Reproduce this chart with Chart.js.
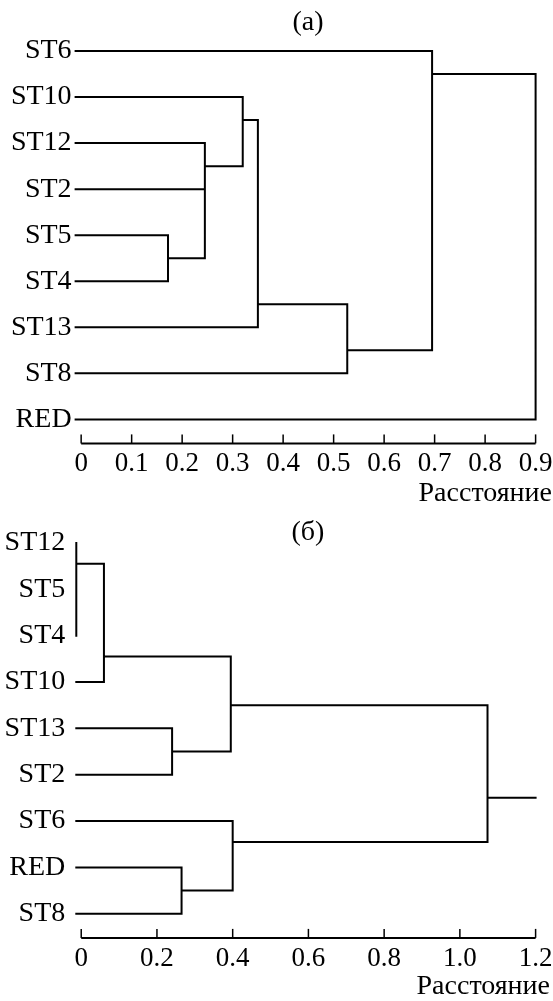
<!DOCTYPE html>
<html>
<head>
<meta charset="utf-8">
<script src="https://cdn.jsdelivr.net/npm/chart.js@4.4.1/dist/chart.umd.min.js"></script>
<style>
  body { margin: 0; background: #fff; }
  #page { position: relative; width: 553px; height: 1001px; font-family: "Liberation Serif", "DejaVu Serif", serif; color: #000; }
  canvas { position: absolute; left: 0; }
  .lbl { position: absolute; font-size: 28px; line-height: 28px; white-space: nowrap; }
</style>
</head>
<body>
<div id="page">
  <canvas id="chartA" width="553" height="480" style="top:0"></canvas>
  <canvas id="chartB" width="553" height="501" style="top:500px"></canvas>
  <div class="lbl" style="left:308px; top:7px; transform:translateX(-50%)">(а)</div>
  <div class="lbl" style="right:1px; top:478px">Расстояние</div>
  <div class="lbl" style="left:308px; top:517px; transform:translateX(-50%)">(б)</div>
  <div class="lbl" style="right:3px; top:971px">Расстояние</div>
</div>
<script>
// (а) leaves top to bottom, and the merge each leaf joins
const leavesA = ['ST6', 'ST10', 'ST12', 'ST2', 'ST5', 'ST4', 'ST13', 'ST8', 'RED'];
const leafParentA = [5, 2, 1, 1, 0, 0, 3, 4, 6];
// merges: distance, parent merge, row where the joined branch leaves
const mergeHeightA = [0.172, 0.245, 0.32, 0.35, 0.527, 0.695, 0.9];
const mergeParentA = [1, 2, 3, 4, 5, 6, -1];
const mergeRowA = [4.5, 2.5, 1.5, 5.5, 6.5, 0.5, 0.5];
const ticksA = [0, 0.1, 0.2, 0.3, 0.4, 0.5, 0.6, 0.7, 0.8, 0.9];
const tickLabelsA = ['0', '0.1', '0.2', '0.3', '0.4', '0.5', '0.6', '0.7', '0.8', '0.9'];

// (б)
const leavesB = ['ST12', 'ST5', 'ST4', 'ST10', 'ST13', 'ST2', 'ST6', 'RED', 'ST8'];
const leafParentB = [0, 0, 0, 1, 2, 2, 5, 4, 4];
const mergeHeightB = [0, 0.06, 0.24, 0.395, 0.265, 0.4, 1.073];
const mergeParentB = [1, 3, 3, 6, 5, 6, -1];
const mergeRowB = [0.45, 2.45, 4.5, 3.5, 7.5, 6.45, 5.5];
const ticksB = [0, 0.2, 0.4, 0.6, 0.8, 1.0, 1.2];
const tickLabelsB = ['0', '0.2', '0.4', '0.6', '0.8', '1.0', '1.2'];

const SERIF = '"Liberation Serif", "DejaVu Serif", serif';


function buildSegments(leaves, leafParent, heights, parents, rows, leafStart, rootEnd) {
    const xOf = h => (h > 0 ? h : leafStart);
    const kids = heights.map(() => []);
    leaves.forEach((name, i) => kids[leafParent[i]].push({ row: i, x: leafStart }));
    heights.forEach((h, m) => {
        if (parents[m] >= 0) kids[parents[m]].push({ row: rows[m], x: xOf(h) });
    });

    const pts = [];
    heights.forEach((h, m) => {
        const x = xOf(h);
        const r = kids[m].map(k => k.row);
        pts.push({ x: x, y: Math.min(...r) }, { x: x, y: Math.max(...r) }, { x: null, y: null });
        kids[m].forEach(k => {
            if (k.x < x) pts.push({ x: k.x, y: k.row }, { x: x, y: k.row }, { x: null, y: null });
        });
    });

    if (rootEnd !== null) {
        const root = parents.indexOf(-1);
        pts.push({ x: xOf(heights[root]), y: rows[root] }, { x: rootEnd, y: rows[root] });
    }
    return pts;
}


const axisLine = {   // baseline with ticks pointing up, from first to last tick
    id: 'axisLine',
    afterDraw(chart) {
        const xs = chart.scales.x;
        const ctx = chart.ctx;
        const y = chart.chartArea.bottom + 1;
        const vals = xs.ticks.map(t => t.value);
        ctx.save();
        ctx.strokeStyle = '#000';
        ctx.lineWidth = 2;
        ctx.beginPath();
        ctx.moveTo(xs.getPixelForValue(vals[0]), y);
        ctx.lineTo(xs.getPixelForValue(vals[vals.length - 1]), y);
        ctx.stroke();
        ctx.lineWidth = 1.5;
        vals.forEach(v => {
            const px = xs.getPixelForValue(v);
            ctx.beginPath();
            ctx.moveTo(px, y);
            ctx.lineTo(px, y - 9);
            ctx.stroke();
        });
        ctx.restore();
    }
};


function drawDendrogram(id, leaves, points, ticks, tickLabels, leafStart, box) {
    const ctx = document.getElementById(id).getContext('2d');
    return new Chart(ctx, {
        type: 'scatter',
        data: {
            datasets: [{
                data: points,
                showLine: true,
                spanGaps: false,
                borderColor: '#000',
                borderWidth: 2,
                borderCapStyle: 'square',
                pointRadius: 0,
                clip: false
            }]
        },
        options: {
            responsive: false,
            animation: false,
            events: [],
            layout: { padding: { top: box.top, right: box.right, bottom: 0, left: 0 } },
            plugins: { legend: { display: false }, tooltip: { enabled: false } },
            scales: {
                x: {
                    type: 'linear',
                    min: leafStart,
                    max: ticks[ticks.length - 1],
                    afterBuildTicks: s => { s.ticks = ticks.map(v => ({ value: v })); },
                    afterFit: s => {
                        s.height = box.xHeight;
                        s.paddingLeft = 0;
                        s.paddingRight = 0;
                    },
                    grid: { display: false, drawTicks: false },
                    border: { display: false },
                    ticks: {
                        autoSkip: false,
                        maxRotation: 0,
                        padding: box.xPad,
                        color: '#000',
                        font: { family: SERIF, size: 27 },
                        callback: (v, i) => tickLabels[i]
                    }
                },
                y: {
                    type: 'linear',
                    reverse: true,
                    min: -0.5,
                    max: leaves.length - 0.5,
                    afterBuildTicks: s => { s.ticks = leaves.map((n, i) => ({ value: i })); },
                    afterFit: s => {
                        s.width = box.yWidth;
                        s.paddingTop = 0;
                        s.paddingBottom = 0;
                    },
                    grid: { display: false, drawTicks: false },
                    border: { display: false },
                    ticks: {
                        autoSkip: false,
                        padding: box.yPad,
                        color: '#000',
                        font: { family: SERIF, size: 28 },
                        callback: (v, i) => leaves[i]
                    }
                }
            }
        },
        plugins: [axisLine]
    });
}


const LEAF_START_A = -0.011;
const LEAF_START_B = -0.013;

drawDendrogram('chartA', leavesA,
    buildSegments(leavesA, leafParentA, mergeHeightA, mergeParentA, mergeRowA, LEAF_START_A, null),
    ticksA, tickLabelsA, LEAF_START_A,
    { top: 28, right: 17.4, xHeight: 37.6, yWidth: 75.6, xPad: 5, yPad: 4 });

drawDendrogram('chartB', leavesB,
    buildSegments(leavesB, leafParentB, mergeHeightB, mergeParentB, mergeRowB, LEAF_START_B, 1.2),
    ticksB, tickLabelsB, LEAF_START_B,
    { top: 19.8, right: 17.4, xHeight: 64.1, yWidth: 76.3, xPad: 6, yPad: 11 });
</script>
</body>
</html>
